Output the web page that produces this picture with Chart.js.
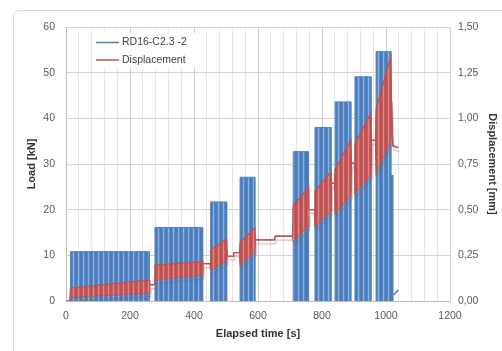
<!DOCTYPE html>
<html>
<head>
<meta charset="utf-8">
<script src="https://cdn.jsdelivr.net/npm/chart.js@4.4.0/dist/chart.umd.min.js"></script>
<style>
  html, body { margin: 0; padding: 0; background: #fff; overflow: hidden; }
  #wrap { position: relative; width: 502px; height: 351px; overflow: hidden; }
  #frame { position: absolute; left: 13px; top: 10px; width: 560px; height: 400px; border: 1px solid #d6d6d6; border-radius: 7px; }
  #chart { position: absolute; left: 0; top: 0; }
</style>
</head>
<body>
<div id="wrap">
  <div id="frame"></div>
  <canvas id="chart" width="502" height="351"></canvas>
</div>
<script>
// cyclic load blocks [s] and peak load [kN]
const blockStart = [14, 278, 452, 544, 710, 778, 841, 903, 969];
const blockEnd = [260, 427, 502, 590, 757, 828, 890, 953, 1015];
const blockPeakLoad = [10.8, 16.1, 21.7, 27.1, 32.7, 38.0, 43.6, 49.1, 54.6];
// load after last block (partial unloading, then failure)
const loadTailTime = [1015, 1021, 1021];
const loadTailLoad = [27.5, 27.5, 0];
const loadPostTime = [1024, 1038];
const loadPostLoad = [1.3, 2.4];

// displacement band inside each block [mm]
const dispLowStart = [0.02, 0.115, 0.17, 0.20, 0.33, 0.41, 0.48, 0.59, 0.70];
const dispLowEnd = [0.045, 0.143, 0.22, 0.27, 0.41, 0.49, 0.58, 0.69, 0.88];
const dispHighStart = [0.07, 0.197, 0.28, 0.32, 0.52, 0.60, 0.72, 0.86, 1.05];
const dispHighEnd = [0.115, 0.215, 0.34, 0.40, 0.62, 0.71, 0.88, 1.03, 1.34];
// displacement between blocks
const holdTime = [0, 12, 262, 276, 429, 450, 504, 522, 524, 542,
    592, 652, 654, 708, 759, 776, 830, 839, 892, 901, 955, 967];
const holdDisp = [0, 0, 0.09, 0.09, 0.205, 0.205, 0.245, 0.245, 0.265, 0.265,
    0.335, 0.335, 0.355, 0.355, 0.50, 0.50, 0.645, 0.645, 0.755, 0.755, 0.88, 0.88];
const dispTailTime = [1017, 1021, 1038];
const dispTailDisp = [1.11, 0.85, 0.84];

const timeTicks = [0, 200, 400, 600, 800, 1000, 1200];
const legendLabels = ['RD16-C2.3 -2', 'Displacement'];

const BLUE = '#4f81bd';
const RED = '#c0504d';

function stripes(cols) {
    const c = document.createElement('canvas');
    c.width = cols.length;
    c.height = 1;
    const g = c.getContext('2d');
    cols.forEach((col, i) => { g.fillStyle = col; g.fillRect(i, 0, 1, 1); });
    return g.createPattern(c, 'repeat');
}
const bluePattern = stripes(['#4a7cbc', '#4a7cbc', '#5587c5', '#8fb2de', '#5a8ac7']);
const redPattern = stripes(['#bf4e4f', '#bf4e4f', '#c65c5c', '#d98a8a', '#c75f5f']);

function buildLoad() {
    const pts = [{ x: 0, y: 0 }];
    blockStart.forEach((s, i) => {
        pts.push({ x: s, y: 0 }, { x: s, y: blockPeakLoad[i] }, { x: blockEnd[i], y: blockPeakLoad[i] }, { x: blockEnd[i], y: 0 });
    });
    pts.pop();
    loadTailTime.forEach((t, i) => pts.push({ x: t, y: loadTailLoad[i] }));
    return pts;
}

function buildDisp(startVals, endVals) {
    const pts = holdTime.map((t, i) => ({ x: t, y: holdDisp[i] }));
    blockStart.forEach((s, i) => {
        pts.push({ x: s, y: startVals[i] }, { x: blockEnd[i], y: endVals[i] });
    });
    dispTailTime.forEach((t, i) => pts.push({ x: t, y: dispTailDisp[i] }));
    pts.sort((a, b) => a.x - b.x);
    return pts;
}

Chart.defaults.font.family = "'Liberation Sans', Arial, sans-serif";
Chart.defaults.font.size = 10.5;
Chart.defaults.color = '#595959';

// soft shadow under the lower displacement line (doubled line look between blocks)
const shadowPlugin = {
    id: 'lineShadow',
    beforeDatasetDraw(chart, args) {
        if (args.index !== 1) return;
        const ctx = chart.ctx;
        ctx.save();
        ctx.shadowColor = 'rgba(120, 100, 100, 0.4)';
        ctx.shadowOffsetX = 1;
        ctx.shadowOffsetY = 4;
        ctx.shadowBlur = 1;
    },
    afterDatasetDraw(chart, args) {
        if (args.index !== 1) return;
        chart.ctx.restore();
    }
};

const legendPlugin = {
    id: 'innerLegend',
    afterDraw(chart) {
        const ctx = chart.ctx;
        ctx.save();
        ctx.fillStyle = '#ffffff';
        ctx.fillRect(93, 33, 102, 35);
        const rows = [{ y: 42.5, color: BLUE }, { y: 60, color: RED }];
        ctx.font = "10.5px 'Liberation Sans', Arial, sans-serif";
        ctx.textBaseline = 'middle';
        rows.forEach((r, i) => {
            ctx.strokeStyle = r.color;
            ctx.lineWidth = 1.5;
            ctx.beginPath();
            ctx.moveTo(96, r.y);
            ctx.lineTo(119, r.y);
            ctx.stroke();
            ctx.fillStyle = '#404040';
            ctx.fillText(legendLabels[i], 122, r.y);
        });
        ctx.restore();
    }
};

new Chart(document.getElementById('chart'), {
    type: 'line',
    data: {
        datasets: [{
            label: legendLabels[1],
            data: buildDisp(dispHighStart, dispHighEnd),
            yAxisID: 'y1',
            borderColor: RED,
            borderWidth: 1.2,
            backgroundColor: redPattern,
            fill: '+1',
            pointRadius: 0,
            tension: 0
        }, {
            label: 'low',
            data: buildDisp(dispLowStart, dispLowEnd),
            yAxisID: 'y1',
            borderColor: RED,
            borderWidth: 1.2,
            fill: false,
            pointRadius: 0,
            tension: 0
        }, {
            label: legendLabels[0],
            data: buildLoad(),
            yAxisID: 'y',
            borderColor: BLUE,
            borderWidth: 1,
            backgroundColor: bluePattern,
            fill: 'origin',
            pointRadius: 0,
            tension: 0,
            segment: {
                borderColor: c => (c.p0.parsed.y === 0 && c.p1.parsed.y === 0) ? 'rgba(0,0,0,0)' : undefined
            }
        }, {
            label: 'post',
            data: loadPostTime.map((t, i) => ({ x: t, y: loadPostLoad[i] })),
            yAxisID: 'y',
            borderColor: BLUE,
            borderWidth: 1.6,
            fill: false,
            pointRadius: 0
        }]
    },
    options: {
        responsive: false,
        animation: false,
        layout: { padding: { top: 27, left: 0, right: 0, bottom: 0 } },
        plugins: {
            legend: { display: false },
            tooltip: { enabled: false }
        },
        scales: {
            x: {
                type: 'linear',
                min: 0,
                max: 1200,
                ticks: {
                    stepSize: 40,
                    autoSkip: false,
                    maxRotation: 0,
                    padding: 9,
                    callback: v => timeTicks.includes(v) ? v : ''
                },
                grid: {
                    drawTicks: false,
                    color: c => (c.tick && c.tick.value % 200 === 0) ? '#cdcdcd' : '#e6e6e6'
                },
                border: { color: '#bdbdbd' },
                title: {
                    display: true,
                    text: 'Elapsed time [s]',
                    color: '#333',
                    font: { size: 11, weight: 'bold' },
                    padding: { top: 0, bottom: 10 }
                },
                afterFit: s => { s.height = 50; }
            },
            y: {
                position: 'left',
                min: 0,
                max: 60,
                ticks: { stepSize: 10, padding: 11 },
                grid: { drawTicks: false, color: '#d2d2d2' },
                border: { color: '#bdbdbd' },
                title: {
                    display: true,
                    text: 'Load [kN]',
                    color: '#333',
                    font: { size: 11, weight: 'bold' },
                    padding: { top: 25, bottom: 0 }
                },
                afterFit: s => { s.width = 66; }
            },
            y1: {
                position: 'right',
                min: 0,
                max: 1.5,
                ticks: {
                    stepSize: 0.25,
                    padding: 8,
                    callback: v => v.toFixed(2).replace('.', ',')
                },
                grid: { drawOnChartArea: false, drawTicks: false },
                border: { color: '#d2d2d2' },
                title: {
                    display: true,
                    text: 'Displacement [mm]',
                    color: '#333',
                    font: { size: 11, weight: 'bold' },
                    padding: { top: 3, bottom: 0 }
                },
                afterFit: s => { s.width = 52; }
            }
        }
    },
    plugins: [shadowPlugin, legendPlugin]
});
</script>
</body>
</html>
